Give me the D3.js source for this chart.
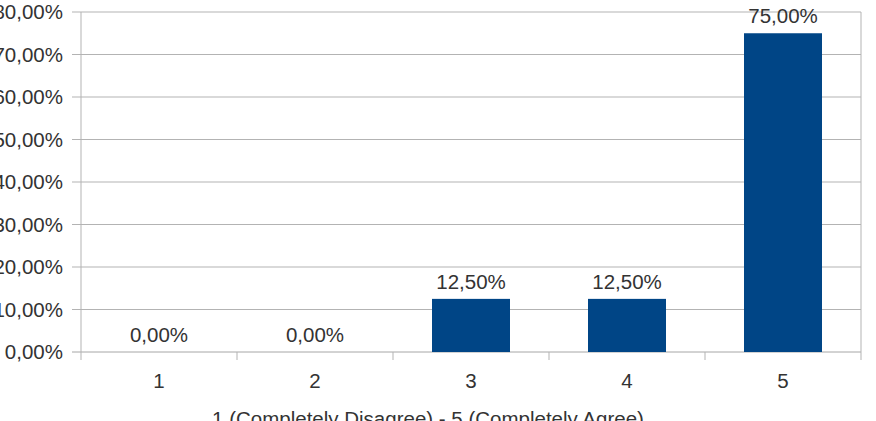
<!DOCTYPE html>
<html>
<head>
<meta charset="utf-8">
<script src="https://cdn.jsdelivr.net/npm/d3@7"></script>
<style>
  body { margin: 0; background: #fff; }
  svg { display: block; font-family: 'Liberation Sans', Arial, sans-serif; }
</style>
</head>
<body>
<div class="chart"></div>
<script>
// data
const categories = ['1', '2', '3', '4', '5'];
const shares = [0, 0, 12.5, 12.5, 75];
const yTicks = [0, 10, 20, 30, 40, 50, 60, 70, 80];
const axisTitle = '1 (Completely Disagree) - 5 (Completely Agree)';

const fmt = (v) => `${v.toFixed(2).replace('.', ',')}%`;

const W = 876;
const H = 421;
const margin = {
  top: 12, right: 15, bottom: 69, left: 81,
};
const width = W - margin.left - margin.right;
const height = H - margin.top - margin.bottom;
const fs = 20.5;

const svg = d3.select('.chart')
  .append('svg')
  .attr('width', W)
  .attr('height', H);

const g = svg.append('g')
  .attr('transform', `translate(${margin.left},${margin.top})`);

const x = d3.scaleBand()
  .domain(categories)
  .range([0, width])
  .paddingInner(0)
  .paddingOuter(0);

const y = d3.scaleLinear()
  .domain([0, 80])
  .range([height, 0]);

const grey = '#b3b3b3';
const textCol = '#333333';

// horizontal grid lines
g.selectAll('.grid')
  .data(yTicks)
  .enter()
  .append('line')
  .attr('x1', -9)
  .attr('x2', width)
  .attr('y1', (d) => y(d))
  .attr('y2', (d) => y(d))
  .attr('stroke', (d) => (d === 0 ? '#a6a6a6' : grey))
  .attr('stroke-width', 1);

// right border
g.append('line')
  .attr('x1', width).attr('x2', width)
  .attr('y1', 0).attr('y2', height)
  .attr('stroke', grey);

// y axis line
g.append('line')
  .attr('x1', 0).attr('x2', 0)
  .attr('y1', 0).attr('y2', height + 8)
  .attr('stroke', grey);

// x ticks at category boundaries
const bounds = categories.map((c) => x(c)).concat([width]);
g.selectAll('.xtick')
  .data(bounds.slice(1))
  .enter()
  .append('line')
  .attr('x1', (d) => d)
  .attr('x2', (d) => d)
  .attr('y1', height)
  .attr('y2', height + 8)
  .attr('stroke', grey);

// y tick labels
g.selectAll('.ylab')
  .data(yTicks)
  .enter()
  .append('text')
  .attr('x', -18)
  .attr('y', (d) => y(d))
  .attr('dy', '0.35em')
  .attr('text-anchor', 'end')
  .attr('font-size', fs)
  .attr('fill', textCol)
  .text((d) => fmt(d));

// bars, half the band wide
const barW = x.bandwidth() / 2;
g.selectAll('.bar')
  .data(shares)
  .enter()
  .append('rect')
  .attr('x', (d, i) => x(categories[i]) + barW / 2)
  .attr('y', (d) => y(d))
  .attr('width', barW)
  .attr('height', (d) => height - y(d))
  .attr('fill', '#004586');

// value labels
g.selectAll('.vlab')
  .data(shares)
  .enter()
  .append('text')
  .attr('x', (d, i) => x(categories[i]) + x.bandwidth() / 2)
  .attr('y', (d) => y(d) - 10)
  .attr('text-anchor', 'middle')
  .attr('font-size', fs)
  .attr('fill', textCol)
  .text((d) => fmt(d));

// category labels
g.selectAll('.xlab')
  .data(categories)
  .enter()
  .append('text')
  .attr('x', (d) => x(d) + x.bandwidth() / 2)
  .attr('y', height + 36)
  .attr('text-anchor', 'middle')
  .attr('font-size', fs)
  .attr('fill', textCol)
  .text((d) => d);

// axis title, runs off the bottom edge like in the picture
svg.append('text')
  .attr('x', 428)
  .attr('y', 426)
  .attr('text-anchor', 'middle')
  .attr('font-size', fs)
  .attr('fill', textCol)
  .text(axisTitle);
</script>
</body>
</html>
